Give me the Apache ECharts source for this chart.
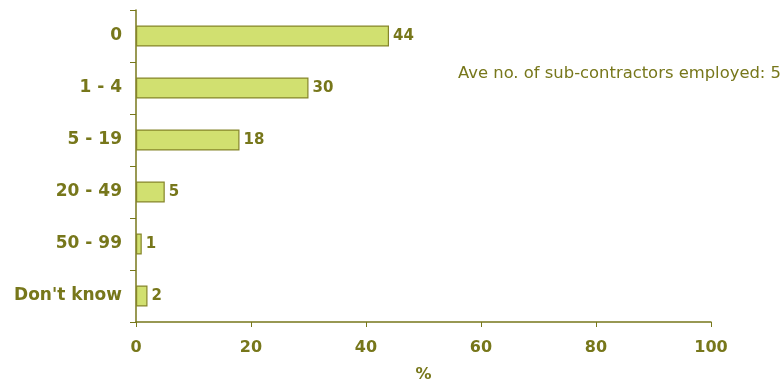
<!DOCTYPE html>
<html>
<head>
<meta charset="utf-8">
<script src="https://cdn.jsdelivr.net/npm/echarts@6/dist/echarts.min.js"></script>
<style>
  html, body { margin: 0; padding: 0; background: #ffffff; }
  #chart { width: 782px; height: 385px; }
</style>
</head>
<body>
<div id="chart"></div>
<script>
// Number of sub-contractors employed (% of respondents)
const categories = ['0', '1 - 4', '5 - 19', '20 - 49', '50 - 99', "Don't know"];
const shares = [44, 30, 18, 5, 1, 2];
const xTicks = { min: 0, max: 100, interval: 20 };
const noteText = 'Ave no. of sub-contractors employed: 5';

const olive = '#77771b';
const font = '"DejaVu Sans", Verdana, sans-serif';

const chart = echarts.init(document.getElementById('chart'), null, { renderer: 'canvas' });
chart.setOption({
  animation: false,
  backgroundColor: '#ffffff',
  grid: { left: 136, right: 71, top: 10, bottom: 63, containLabel: false, outerBoundsMode: 'none' },
  xAxis: {
    type: 'value',
    min: xTicks.min, max: xTicks.max, interval: xTicks.interval,
    name: '%',
    nameLocation: 'middle',
    nameGap: 45,
    nameTextStyle: { color: olive, fontFamily: font, fontSize: 16, fontWeight: 'bold' },
    axisLine: { show: true, lineStyle: { color: olive, width: 1.5 } },
    axisTick: { show: true, length: 5, lineStyle: { color: olive, width: 1 } },
    axisLabel: { color: olive, fontFamily: font, fontSize: 16, fontWeight: 'bold', margin: 18 },
    splitLine: { show: false }
  },
  yAxis: {
    type: 'category',
    data: categories,
    inverse: true,
    axisLine: { show: true, lineStyle: { color: olive, width: 1.5 } },
    axisTick: { show: true, length: 6, lineStyle: { color: olive, width: 1 } },
    axisLabel: { color: olive, fontFamily: font, fontSize: 17, fontWeight: 'bold', margin: 14 }
  },
  series: [{
    type: 'bar',
    data: shares,
    barWidth: 21,
    itemStyle: { color: '#d1e070', borderColor: '#85852a', borderWidth: 1.2 },
    label: {
      show: true, position: 'right', distance: 4,
      color: olive, fontFamily: font, fontSize: 15, fontWeight: 'bold'
    }
  }],
  graphic: [{
    type: 'text',
    x: 458, y: 74,
    style: { text: noteText, fill: olive, font: '16.4px ' + font, textVerticalAlign: 'middle' }
  }]
});
</script>
</body>
</html>
